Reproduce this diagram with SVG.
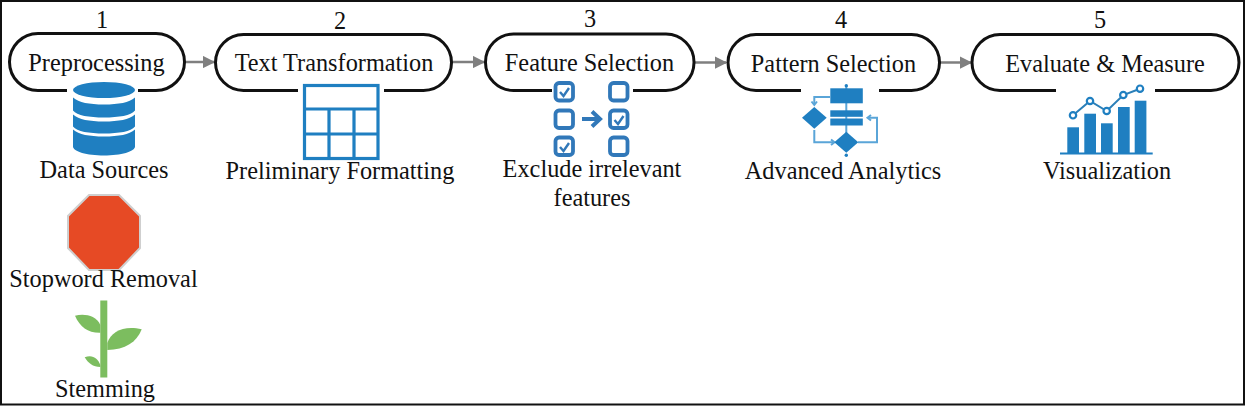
<svg xmlns="http://www.w3.org/2000/svg" width="1245" height="406" viewBox="0 0 1245 406">
<style>
text{font-family:"Liberation Serif","Times New Roman",serif;font-size:24.3px;fill:#111;text-anchor:middle}
.pill{fill:#fff;stroke:#111;stroke-width:3}
.conn{stroke:#7f7f7f;stroke-width:2.5;fill:none;marker-end:url(#arr)}
.blue{fill:#1f7fc1}
.box{fill:#fff;stroke:#3178b9;stroke-width:3.800}
.tick{fill:none;stroke:#3178b9;stroke-width:2.4}
.fl{fill:none;stroke:#5aa5d8;stroke-width:2}
</style>
<defs>
<marker id="arr" markerWidth="5" markerHeight="5" refX="4.5" refY="2.5" orient="auto"><path d="M0 0L5 2.5L0 5z" fill="#7f7f7f"/></marker>
</defs>
<rect id="frame" x="1" y="1" width="1243" height="403.500" fill="#fff" stroke="#111" stroke-width="2"/>
<g id="connectors">
<path class="conn" d="M185 62H214"/>
<path class="conn" d="M452 62H484"/>
<path class="conn" d="M695 62.500H726"/>
<path class="conn" d="M940 62.500H971"/>
</g>
<g id="node1">
<text x="102" y="28">1</text>
<rect class="pill" x="9.500" y="33.500" width="175" height="57" rx="28.500"/>
<text x="96.500" y="71">Preprocessing</text>
<rect x="67" y="84" width="71" height="10" fill="#fff"/>
<g id="database">
<path class="blue" d="M73 90a31 8 0 0 1 62 0a31 8 0 0 1-62 0z"/>
<path class="blue" d="M73 97.500c6 5 16 7 31 7s25-2 31-7v13c-4 5-16 7-31 7s-27-2-31-7z"/>
<path class="blue" d="M73 114.500c6 5 16 7 31 7s25-2 31-7v12c-4 5-16 7-31 7s-27-2-31-7z"/>
<path class="blue" d="M73 129.500c6 5 16 7 31 7s25-2 31-7v17c0 5-14 9-31 9s-31-4-31-9z"/>
</g>
<text x="104" y="178">Data Sources</text>
</g>
<g id="node1b">
<path d="M89 195H119L140 216V248L119 270H89L68 248V216z" fill="#e64a25" stroke="#cfcfcf" stroke-width="2"/>
<text x="103.500" y="287">Stopword Removal</text>
</g>
<g id="node1c">
<g fill="#7cbd5f">
<rect x="100.300" y="300.500" width="7" height="77"/>
<path d="M75 315.700C84 313.500 96 315 100.300 325V332.700C88 333 80 327 75 315.700z"/>
<path d="M141.700 329.300C125 325 111 331 107.300 343V350C125 350 137 342 141.700 329.300z"/>
<path d="M84.700 357.300C92 354 98 358 100.300 365V367C93 367 88 363 84.700 357.300z"/>
</g>
<text x="105" y="397">Stemming</text>
</g>
<g id="node2">
<text x="340" y="29">2</text>
<rect class="pill" x="215.500" y="34.500" width="236" height="56" rx="28"/>
<text x="334" y="71">Text Transformation</text>
<rect x="298" y="84" width="86" height="10" fill="#fff"/>
<g fill="none" stroke="#1f7fc1" stroke-width="3.200">
<rect x="304.500" y="85.500" width="73.500" height="73"/>
<path d="M304.500 109H378M304.500 134H378M329 109V158.500M354 109V158.500"/>
</g>
<text x="340" y="179">Preliminary Formatting</text>
</g>
<g id="node3">
<text x="590" y="27">3</text>
<rect class="pill" x="485.500" y="34" width="208.500" height="56.500" rx="28"/>
<text x="589.500" y="71">Feature Selection</text>
<rect x="552" y="84" width="81" height="10" fill="#fff"/>
<g id="checklist">
<rect class="box" x="555.500" y="83" width="17.500" height="17.500" rx="3.500"/>
<rect class="box" x="555.500" y="110.500" width="17.500" height="17.500" rx="3.500"/>
<rect class="box" x="555.500" y="137.500" width="17.500" height="17.500" rx="3.500"/>
<rect class="box" x="610" y="83" width="17.500" height="17.500" rx="3.500"/>
<rect class="box" x="610" y="110.500" width="17.500" height="17.500" rx="3.500"/>
<rect class="box" x="610" y="137.500" width="17.500" height="17.500" rx="3.500"/>
<path class="tick" d="M560 92L563.500 96L569 88M560 147L563.500 151L569 143M614.500 120L618 124L623.500 116"/>
<path d="M582 119H599M592 111.500L600 119L592 126.500" fill="none" stroke="#3178b9" stroke-width="4"/>
</g>
<text x="592" y="177">Exclude irrelevant</text>
<text x="592" y="206">features</text>
</g>
<g id="node4">
<text x="841" y="28">4</text>
<rect class="pill" x="728" y="34.500" width="211.500" height="56" rx="28"/>
<text x="833.500" y="72">Pattern Selection</text>
<rect x="801" y="84" width="78" height="10" fill="#fff"/>
<g id="flow">
<path class="fl" d="M846.300 86V134M830 97H814.300V104M814.300 130V142.300H834M858 142.300H877V117.700H868"/>
<path class="fl" d="M811.500 101.500L814.300 105L817 101.500M831 139.500L834.500 142.300L831 145M871 115L867.500 117.700L871 120.500"/>
<circle class="blue" cx="846.300" cy="85.700" r="1.700"/>
<circle class="blue" cx="846.300" cy="155.300" r="1.700"/>
<rect class="blue" x="830.300" y="88.300" width="32.500" height="15"/>
<rect class="blue" x="830.300" y="110.300" width="32.500" height="6.500"/>
<rect class="blue" x="830.300" y="118.500" width="32.500" height="7"/>
<path class="blue" d="M802 117.700L814.300 107L826.700 117.700L814.300 128.700z"/>
<path class="blue" d="M834.300 142.300L846.300 131.700L858.300 142.300L846.300 152.700z"/>
</g>
<text x="843" y="179">Advanced Analytics</text>
</g>
<g id="node5">
<text x="1100" y="28">5</text>
<rect class="pill" x="972" y="34.500" width="267" height="56" rx="28"/>
<text x="1105" y="72">Evaluate &amp; Measure</text>
<rect x="1056" y="84" width="99" height="10" fill="#fff"/>
<g id="chart">
<rect class="blue" x="1067.300" y="127.300" width="11.700" height="26"/>
<rect class="blue" x="1084.300" y="113.700" width="11.700" height="39.600"/>
<rect class="blue" x="1101" y="123.300" width="11.700" height="30"/>
<rect class="blue" x="1118" y="107" width="11.700" height="46.300"/>
<rect class="blue" x="1134.700" y="100.700" width="11.700" height="52.600"/>
<path d="M1060 153.500H1152.700" stroke="#1f7fc1" stroke-width="1.800" fill="none"/>
<path d="M1073 115.300L1090 101L1106.700 111L1123.300 95L1140 88.700" stroke="#2b7fb8" stroke-width="2" fill="none"/>
<g fill="#fff" stroke="#1f7fc1" stroke-width="2.200">
<circle cx="1073" cy="115.300" r="3.200"/>
<circle cx="1090" cy="101" r="3.200"/>
<circle cx="1106.700" cy="111" r="3.200"/>
<circle cx="1123.300" cy="95" r="3.200"/>
<circle cx="1140" cy="88.700" r="3.200"/>
</g>
</g>
<text x="1107" y="179">Visualization</text>
</g>
</svg>
